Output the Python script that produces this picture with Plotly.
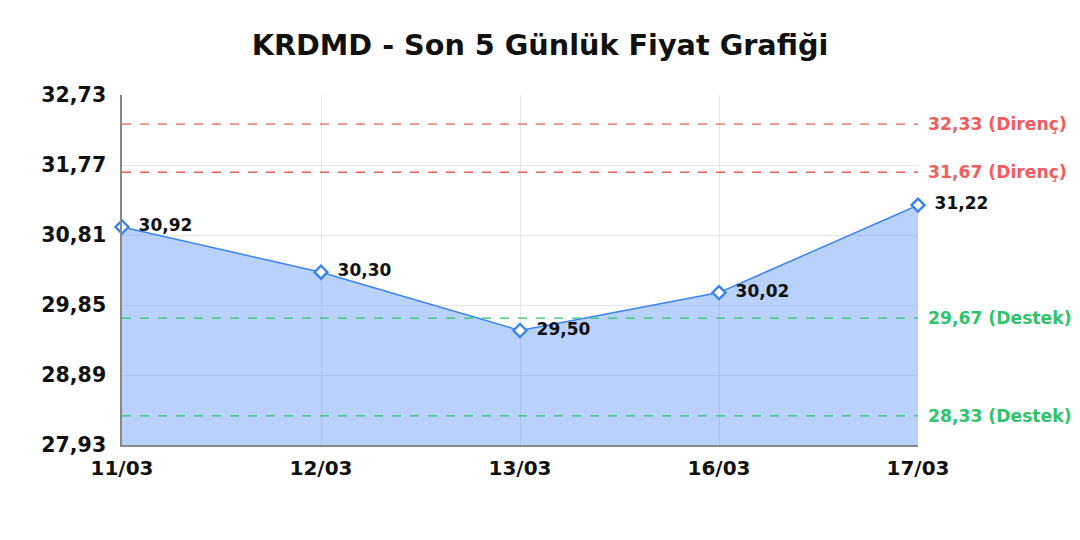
import plotly.graph_objects as go

# Price data
dates = ["11/03", "12/03", "13/03", "16/03", "17/03"]
prices = [30.92, 30.30, 29.50, 30.02, 31.22]

# Support / resistance levels
resistance = [32.33, 31.67]
support = [29.67, 28.33]

y_ticks = [27.93, 28.89, 29.85, 30.81, 31.77, 32.73]
y_tick_labels = ["27,93", "28,89", "29,85", "30,81", "31,77", "32,73"]

RED = "#f25c5c"
GREEN = "#2ec46a"
BLUE = "#3b82f6"


def tr(v):
    # turkish decimal comma
    return f"{v:.2f}".replace(".", ",")


fig = go.Figure()

fig.add_trace(go.Scatter(
    x=dates,
    y=prices,
    mode="lines+markers+text",
    text=["\u00a0\u2009" + tr(p) for p in prices],
    textposition="middle right",
    textfont=dict(family="DejaVu Sans", size=17, color="#111111", weight="bold"),
    line=dict(color=BLUE, width=1.5),
    marker=dict(symbol="diamond", size=10, color="white",
                line=dict(color=BLUE, width=2.4)),
    fill="tozeroy",
    fillcolor="rgba(59,130,246,0.36)",
    cliponaxis=False,
    showlegend=False,
))

# Horizontal level lines with labels on the right
for lvl, color, kind in ([(v, RED, "Direnç") for v in resistance] +
                         [(v, GREEN, "Destek") for v in support]):
    fig.add_shape(type="line", xref="paper", x0=0, x1=1, yref="y", y0=lvl, y1=lvl,
                  line=dict(color=color, width=1.4, dash="dash"))
    fig.add_annotation(xref="paper", x=1.0, xshift=8, xanchor="left",
                       y=lvl, yref="y", showarrow=False,
                       text=f"{tr(lvl)} ({kind})",
                       font=dict(family="DejaVu Sans", size=17.2, color=color, weight="bold"))

fig.update_layout(
    width=1080,
    height=540,
    margin=dict(l=114, r=170, t=87, b=103),
    paper_bgcolor="white",
    plot_bgcolor="white",
    title=dict(text="<b>KRDMD - Son 5 Günlük Fiyat Grafiği</b>", x=0.4926, xanchor="center",
               y=0.931, yanchor="middle",
               font=dict(family="DejaVu Sans", size=28.7, color="#111111")),
    font=dict(family="DejaVu Sans"),
)

fig.update_xaxes(
    type="category",
    range=[0, len(dates) - 1],
    showgrid=True, gridcolor="#e6e6e6", gridwidth=1,
    showline=True, linecolor="#888888", linewidth=2,
    ticks="", ticklabelstandoff=4,
    tickfont=dict(family="DejaVu Sans", size=20, color="#111111", weight="bold"),
    zeroline=False,
)
fig.update_yaxes(
    range=[y_ticks[0], y_ticks[-1]],
    tickvals=y_ticks, ticktext=y_tick_labels,
    showgrid=True, gridcolor="#e6e6e6", gridwidth=1,
    showline=True, linecolor="#888888", linewidth=1.5,
    ticks="", ticklabelstandoff=10,
    tickfont=dict(family="DejaVu Sans", size=20.5, color="#111111", weight="bold"),
    zeroline=False,
)

fig.write_html("out.html")
